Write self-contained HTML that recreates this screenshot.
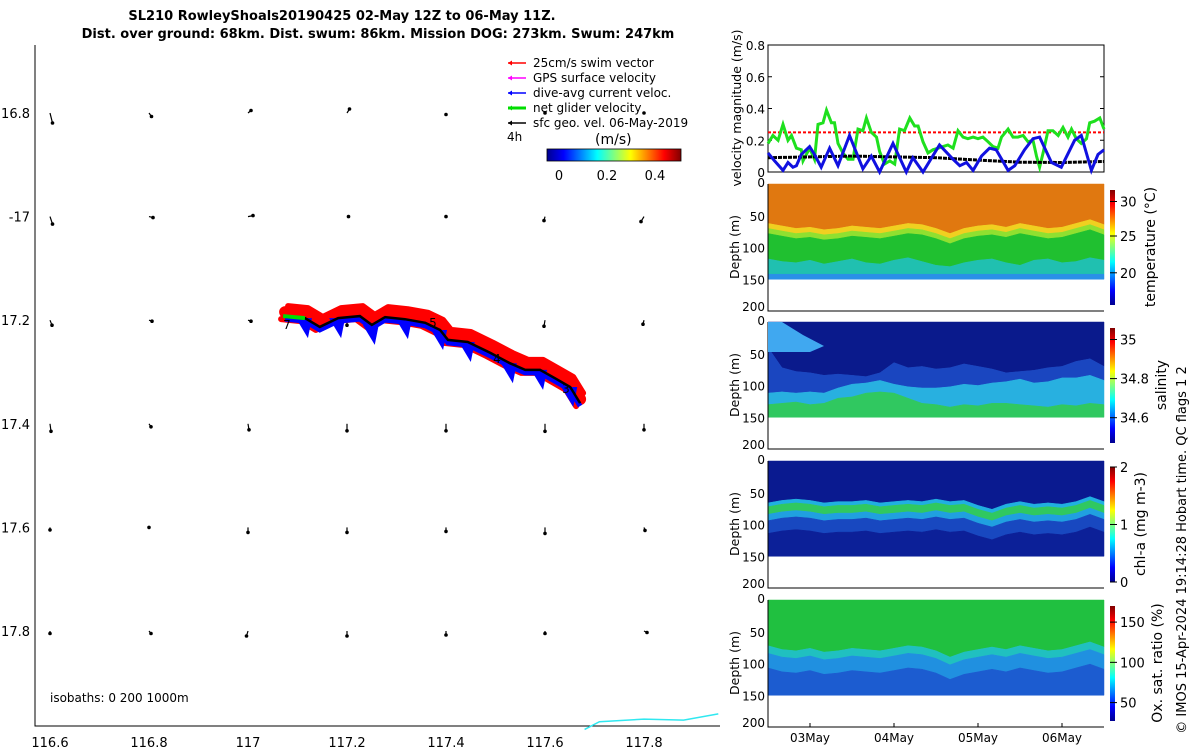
<!DOCTYPE html>
<html><head><meta charset="utf-8">
<style>
body{margin:0;background:#fff;}
svg{display:block;font-family:"DejaVu Sans","Liberation Sans",sans-serif;}
</style></head>
<body>
<svg id="s" width="1200" height="750" viewBox="0 0 1200 750" xmlns="http://www.w3.org/2000/svg">
<g font-weight="bold" font-size="13" text-anchor="middle" fill="#000">
<text x="342" y="20">SL210 RowleyShoals20190425 02-May 12Z to 06-May 11Z.</text>
<text x="378" y="38">Dist. over ground: 68km. Dist. swum: 86km. Mission DOG: 273km. Swum: 247km</text>
</g>
<g id="map"></g>
<g id="vel"></g>
<g id="heat"></g>
<text transform="translate(1186,550) rotate(-90)" text-anchor="middle" font-size="13" fill="#000">© IMOS 15-Apr-2024 19:14:28 Hobart time. QC flags 1  2</text>
</svg>
<script>
// ---------- MAP DATA ----------
const lonTicks=[116.6,116.8,117,117.2,117.4,117.6,117.8];
const lonTickLabels=["116.6","116.8","117","117.2","117.4","117.6","117.8"];
const latTicks=[-16.8,-17,-17.2,-17.4,-17.6,-17.8];
const latTickLabels=["16.8","-17","17.2","17.4","17.6","17.8"];
const trackLon=[117.075,117.115,117.145,117.182,117.226,117.250,117.277,117.317,117.358,117.388,117.404,117.444,117.489,117.529,117.560,117.590,117.620,117.651,117.671];
const trackLat=[-17.192,-17.196,-17.213,-17.196,-17.192,-17.209,-17.194,-17.198,-17.205,-17.219,-17.238,-17.242,-17.263,-17.283,-17.296,-17.296,-17.312,-17.329,-17.360];
const arrowU=[[0.05,0.05,0.06,0.05,0,0,0],[0.05,0.08,0.1,0.03,0,-0.02,-0.06],[0.04,0.06,0.06,0,0,-0.02,-0.02],[0.02,0.04,0.02,0,0,0,0],[0,0,0,0,0,0,0.02],[0,0.04,-0.03,0,0,0,0.06]];
const arrowV=[[-0.2,-0.07,0.05,0.08,-0.03,0,0],[-0.15,-0.02,0.02,0,0,-0.08,-0.1],[-0.1,-0.02,-0.02,-0.1,-0.12,-0.12,-0.08],[-0.15,-0.06,-0.12,-0.14,-0.14,-0.15,-0.12],[-0.05,0,-0.1,-0.1,-0.08,-0.12,-0.06],[-0.05,-0.05,-0.1,-0.1,-0.08,-0.05,-0.03]];
const isoLon=[117.68,117.71,117.80,117.88,117.95];
const isoLat=[-17.99,-17.975,-17.97,-17.972,-17.96];
// ---------- VELOCITY DATA ----------
const gHours=[0,1.4,2.9,4.3,5.7,6.7,8.1,9.5,10,11.9,13.3,14.3,15.7,16.7,18.1,19,20,21.4,22.9,24.3,25.7,27.1,28.1,29.5,31,31.9,33.3,34.8,36.2,37.6,39,40.5,41.9,42.9,44.3,45.7,47.1,48.6,50,51.4,52.9,54.3,55.7,57.1,58.6,60,61.4,62.9,64.3,65.7,66.7,68.6,70,71.4,72.9,74.3,75.7,76.7,77.6,78.6,80,81.4,82.9,84.3,85.7,86.7,88.1,89.5,91,91.9,93.3,94.8,96];
const gVel=[0.18,0.23,0.2,0.3,0.2,0.23,0.15,0.14,0.07,0.15,0.08,0.3,0.31,0.39,0.31,0.31,0.18,0.12,0.08,0.08,0.27,0.26,0.34,0.25,0.22,0.13,0.05,0.07,0.05,0.27,0.26,0.34,0.29,0.29,0.19,0.12,0.14,0.15,0.16,0.17,0.15,0.26,0.22,0.21,0.22,0.21,0.22,0.19,0.16,0.15,0.22,0.27,0.22,0.22,0.23,0.19,0.2,0.1,0.03,0.12,0.26,0.26,0.23,0.28,0.22,0.27,0.21,0.18,0.21,0.31,0.32,0.34,0.27];
const bHours=[0,1.9,4.3,5.7,7.1,8.1,9.5,11.9,13.3,15.2,17.6,20,23.3,27.1,29.5,31.9,35.7,39.5,41.4,44.3,49,52.9,54.8,56.7,58.6,61,63.3,65.2,68.6,70.5,73.3,75.7,77.6,81,83.8,87.6,89.5,92.4,94.3,96];
const bVel=[0.12,0.07,0.01,0.06,0.03,0.04,0.11,0.16,0.11,0.03,0.15,0.04,0.23,0.02,0.1,0.0,0.18,0.0,0.09,0.0,0.17,0.08,0.04,0.06,0.01,0.1,0.15,0.14,0.01,0.04,0.14,0.21,0.22,0.06,0.03,0.2,0.23,0.01,0.11,0.14];
const kHours=[0,12,24,36,48,60,72,84,96];
const kVel=[0.09,0.095,0.1,0.095,0.09,0.075,0.062,0.06,0.066];
const swimSpeed=0.25;
const velTicks=[0,0.2,0.4,0.6,0.8];
// ---------- SECTION DATA (every 4 h) ----------
const secHours=[0,4,8,12,16,20,24,28,32,36,40,44,48,52,56,60,64,68,72,76,80,84,88,92,96];
const tempThermo=[62,66,70,68,72,70,66,68,70,66,62,64,70,78,70,66,64,68,62,66,70,68,62,56,64];
const tempDeep=[118,122,124,120,126,122,118,124,126,120,116,122,128,130,124,120,118,124,128,120,118,124,122,116,120];
const salUpper=[40,72,78,80,84,82,84,86,80,64,72,70,74,72,66,70,74,80,78,76,72,70,62,58,70];
const salMid=[112,110,112,110,112,104,98,96,92,98,102,104,104,102,98,100,96,94,90,96,94,88,88,84,92];
const salDeep=[130,128,126,130,128,120,118,112,110,112,120,128,130,134,130,132,128,128,130,132,134,130,132,128,130];
const chlMax=[74,70,68,70,74,72,72,70,74,72,70,72,68,72,70,78,84,76,72,76,74,76,72,64,72];
const oxLayer=[72,78,80,76,82,80,76,78,80,76,72,74,80,90,82,78,74,78,72,76,80,78,72,66,74];
// ---------- helpers ----------
const NS="http://www.w3.org/2000/svg";
function mk(tag,attrs,parent){const e=document.createElementNS(NS,tag);for(const k in attrs)e.setAttribute(k,attrs[k]);parent.appendChild(e);return e;}
const mx=lon=>50+(lon-116.6)*495;
const my=lat=>113+(-16.8-lat)*518;
const map=document.getElementById('map');
let ax=mk('path',{d:'M35 45 V726 H720','fill':'none','stroke':'#000','stroke-width':1},map);


lonTicks.forEach((v,i)=>{
  let t=mk('text',{x:mx(v),y:747,'text-anchor':'middle','font-size':13},map);
  t.textContent=lonTickLabels[i];
  
  
});
latTicks.forEach((v,i)=>{
  let t=mk('text',{x:30,y:my(v)+5,'text-anchor':'end','font-size':13},map);
  t.textContent=latTickLabels[i];
  
  
});
latTicks.forEach((la,r)=>{lonTicks.forEach((lo,c)=>{
  const x0=mx(lo),y0=my(la),u=arrowU[r][c],v=arrowV[r][c];
  const x1=x0+u*50,y1=y0-v*50;
  let a=mk('line',{x1:x0,y1:y0,x2:x1,y2:y1,stroke:'#000','stroke-width':1.2},map);
  
  
  mk('circle',{cx:x1,cy:y1,r:1.8,fill:'#000'},map);
});});
function trackPath(lo,la,dx=0,dy=0){return lo.map((v,i)=>(i?'L':'M')+(mx(v)+dx).toFixed(1)+' '+(my(la[i])+dy).toFixed(1)).join(' ');}
let iso=mk('path',{d:trackPath(isoLon,isoLat),fill:'none',stroke:'#30e8f0','stroke-width':1.5},map);


let red=mk('path',{d:trackPath(trackLon,trackLat,0,-4),fill:'none',stroke:'#f00','stroke-width':12,'stroke-linejoin':'round','stroke-linecap':'round'},map);


mk('path',{d:trackPath(trackLon,trackLat,3,-10),fill:'none',stroke:'#f00','stroke-width':6,'stroke-linejoin':'round','stroke-linecap':'round'},map);
mk('path',{d:trackPath(trackLon,trackLat,-4,3),fill:'none',stroke:'#f00','stroke-width':6,'stroke-linejoin':'round','stroke-linecap':'round'},map);
trackLon.forEach((lo,i)=>{
  if(i%2===1){const x=mx(lo),y=my(trackLat[i]);
    let b=mk('path',{d:`M${x-9} ${y} L${x+7} ${y} L${x+3} ${y+20} Z`,fill:'#00f'},map);
    
    }
});
mk('path',{d:trackPath(trackLon,trackLat,0,3),fill:'none',stroke:'#00f','stroke-width':5},map);
let tr=mk('path',{d:trackPath(trackLon,trackLat),fill:'none',stroke:'#000','stroke-width':2.5},map);


let gr=mk('line',{x1:mx(trackLon[0])-2,y1:my(trackLat[0]),x2:mx(trackLon[1]),y2:my(trackLat[1]),stroke:'#0d0','stroke-width':4},map);


[["7",287,329],["5",433,327],["4",497,363],["3",566,393]].forEach(d=>{let t=mk('text',{x:d[1],y:d[2],'font-size':12,'text-anchor':'middle'},map);t.textContent=d[0];

});
const leg=[["#f00","25cm/s swim vector"],["#f0f","GPS surface velocity"],["#00f","dive-avg current veloc."],["#0d0","net glider velocity"],["#000","sfc geo. vel. 06-May-2019"]];
leg.forEach((l,i)=>{const y=63+i*15;
  mk('line',{x1:508,y1:y,x2:526,y2:y,stroke:l[0],'stroke-width':i==3?3:1.5},map);
  mk('path',{d:`M508 ${y} l4 -2.5 v5 z`,fill:l[0]},map);
  let t=mk('text',{x:533,y:y+4,'font-size':12},map);t.textContent=l[1];
  
  
});
let t4=mk('text',{x:507,y:141,'font-size':12},map);t4.textContent='4h';
let tms=mk('text',{x:595,y:144,'font-size':14},map);tms.textContent='(m/s)';
const jet=['#00008f','#0000ff','#0080ff','#00ffff','#80ff80','#ffff00','#ff8000','#ff0000','#800000'];
function grad(id,cols,vert){const d=document.querySelector('defs')||mk('defs',{},document.getElementById('s'));
  const g=mk('linearGradient',{id:id,x1:0,y1:vert?1:0,x2:vert?0:1,y2:0},d);
  cols.forEach((c,i)=>mk('stop',{offset:i/(cols.length-1),'stop-color':c},g));}
grad('jetH',jet,false);grad('jetV',jet,true);
let cb=mk('rect',{x:547,y:149,width:134,height:12,fill:'url(#jetH)',stroke:'#000','stroke-width':0.8},map);


[[559,'0'],[607,'0.2'],[655,'0.4']].forEach(d=>{let t=mk('text',{x:d[0],y:180,'font-size':13,'text-anchor':'middle'},map);t.textContent=d[1];});
let isot=mk('text',{x:50,y:702,'font-size':12},map);isot.textContent='isobaths: 0   200   1000m';


// ---------- velocity panel ----------
const X0=768,X1=1104;
const tx=h=>X0+h*(X1-X0)/96;
const vy=v=>172-v*158.75;
const vel=document.getElementById('vel');
let vb=mk('rect',{x:X0,y:45,width:X1-X0,height:127,fill:'none',stroke:'#000','stroke-width':1},vel);


velTicks.forEach(v=>{mk('line',{x1:X0,y1:vy(v),x2:X0+4,y2:vy(v),stroke:'#000'},vel);mk('line',{x1:X1,y1:vy(v),x2:X1-4,y2:vy(v),stroke:'#000'},vel);
  let t=mk('text',{x:X0-3,y:vy(v)+5,'font-size':12,'text-anchor':'end'},vel);t.textContent=v===0?'0':v.toFixed(1);});
let yl=mk('text',{transform:'translate(741,108) rotate(-90)','font-size':12.5,'text-anchor':'middle'},vel);yl.textContent='velocity magnitude (m/s)';


let sw=mk('line',{x1:X0,y1:vy(swimSpeed),x2:X1,y2:vy(swimSpeed),stroke:'#f00','stroke-width':2,'stroke-dasharray':'3 2'},vel);


function line(h,v){return h.map((x,i)=>(i?'L':'M')+tx(x).toFixed(1)+' '+vy(v[i]).toFixed(1)).join(' ');}
let gl=mk('path',{d:line(gHours,gVel),fill:'none',stroke:'#1ee01e','stroke-width':3},vel);


let kl=mk('path',{d:line(kHours,kVel),fill:'none',stroke:'#000','stroke-width':3,'stroke-dasharray':'4 1'},vel);


let bl=mk('path',{d:line(bHours,bVel),fill:'none',stroke:'#1010e0','stroke-width':3},vel);


// ---------- sections ----------
const heat=document.getElementById('heat');
function panel(top,name,cbTicks,cbLabel,cbX,layers){
  const dy=d=>top+d*127/200;
  const g=mk('g',{},heat);
  
  
  layers.forEach(L=>{
    const up=L[0],lo=L[1],col=L[2];
    let d='M'+secHours.map((h,i)=>tx(h).toFixed(1)+' '+dy(up(i)).toFixed(1)).join(' L');
    d+=' L'+secHours.slice().reverse().map((h,j)=>{const i=secHours.length-1-j;return tx(h).toFixed(1)+' '+dy(lo(i)).toFixed(1);}).join(' L')+' Z';
    mk('path',{d:d,fill:col,stroke:col,'stroke-width':0.5},g);
  });
  mk('path',{d:`M${X0} ${top} V${top+127} H${X1}`,fill:'none',stroke:'#000'},g);
  [0,50,100,150,200].forEach(v=>{let t=mk('text',{x:X0-3,y:dy(v)+(v===0?3:v===200?0:5),'font-size':12,'text-anchor':'end'},g);t.textContent=v;});
  let dl=mk('text',{transform:`translate(739,${top+63}) rotate(-90)`,'font-size':12.5,'text-anchor':'middle'},g);dl.textContent='Depth (m)';
  mk('rect',{x:1110,y:top+6,width:5,height:115,fill:'url(#jetV)'},g);
  cbTicks.forEach(c=>{const y=top+6+115*c[0];mk('line',{x1:1110,y1:y,x2:1117,y2:y,stroke:'#000'},g);let t=mk('text',{x:1120,y:y+5,'font-size':13},g);t.textContent=c[1];});
  let cl=mk('text',{transform:`translate(${cbX},${top+63}) rotate(-90)`,'font-size':14,'text-anchor':'middle'},g);cl.textContent=cbLabel;
  
  
}
const C=a=>i=>a[i], K=v=>i=>v, A=(a,o)=>i=>a[i]+o;
panel(184,'temperature-section',[[0.1,'30'],[0.4,'25'],[0.72,'20']],'temperature (°C)',1155,[
  [K(0),C(tempThermo),'#e07810'],[C(tempThermo),A(tempThermo,8),'#f0d020'],[A(tempThermo,8),A(tempThermo,16),'#90e030'],
  [A(tempThermo,16),C(tempDeep),'#20c030'],[C(tempDeep),K(142),'#20c0b0'],[K(142),K(150),'#2a90e8']]);
panel(322,'salinity-section',[[0.1,'35'],[0.44,'34.8'],[0.78,'34.6']],'salinity',1166,[
  [K(0),C(salUpper),'#0a1a8c'],[C(salUpper),C(salMid),'#1a46c0'],[C(salMid),C(salDeep),'#28b0e0'],[C(salDeep),K(150),'#30c860']]);
panel(461,'chlorophyll-section',[[0,'2'],[0.5,'1'],[1,'0']],'chl-a (mg m-3)',1145,[
  [K(0),A(chlMax,-8),'#0a1a90'],[A(chlMax,-8),A(chlMax,-2),'#20b0e0'],[A(chlMax,-2),A(chlMax,10),'#30c860'],
  [A(chlMax,10),A(chlMax,20),'#20a0e0'],[A(chlMax,20),A(chlMax,40),'#1848c0'],[A(chlMax,40),K(150),'#0c2098']]);
panel(600,'oxygen-section',[[0.14,'150'],[0.49,'100'],[0.84,'50']],'Ox. sat. ratio (%)',1162,[
  [K(0),C(oxLayer),'#20c040'],[C(oxLayer),A(oxLayer,12),'#20c0c0'],[A(oxLayer,12),A(oxLayer,35),'#2090e0'],[A(oxLayer,35),K(150),'#1c5cd0']]);
mk('path',{d:`M${tx(0)} 322 H${tx(4)} L${tx(10)} 335 L${tx(16)} 346 L${tx(12)} 352 H${tx(0)} Z`,fill:'#40a8f0'},heat);
[[12,'03May'],[36,'04May'],[60,'05May'],[84,'06May']].forEach(d=>{mk('line',{x1:tx(d[0]),y1:727,x2:tx(d[0]),y2:723,stroke:'#000'},heat);
  let t=mk('text',{x:tx(d[0]),y:742,'font-size':12,'text-anchor':'middle'},heat);t.textContent=d[1];
  
  });
</script>
</body></html>
